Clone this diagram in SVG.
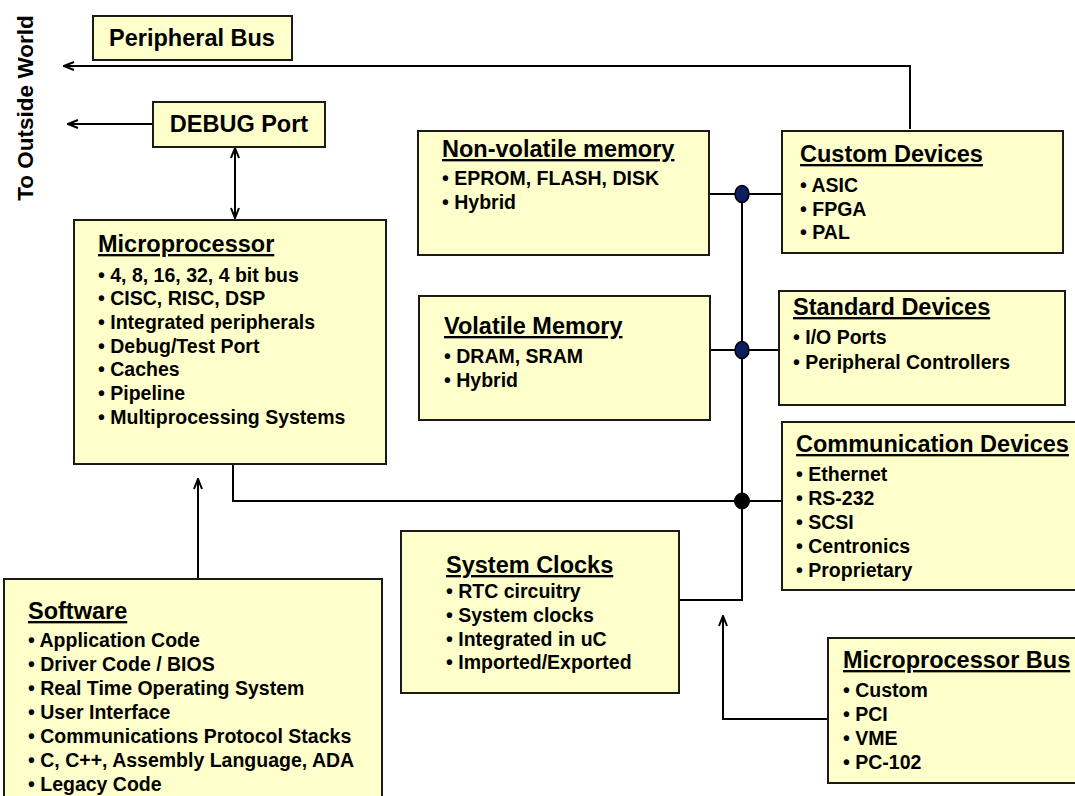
<svg xmlns="http://www.w3.org/2000/svg" width="1075" height="796" viewBox="0 0 1075 796">
<defs>
<style>
.box{fill:#FFFFCC;stroke:#1a1a1a;stroke-width:2}
.t{font-family:"Liberation Sans",Arial,sans-serif;font-weight:bold;fill:#000}
.title{font-size:23.5px;text-decoration:underline}
.plain{font-size:23.5px}
.item{font-size:19.5px}
.wire{fill:none;stroke:#000;stroke-width:2}
.dotb{fill:#0B1F5E;stroke:#000;stroke-width:1.5}
.dotk{fill:#000;stroke:#000;stroke-width:1}
</style>
<marker id="arr" viewBox="0 0 12 10" refX="11" refY="5" markerWidth="12" markerHeight="10" markerUnits="userSpaceOnUse" orient="auto-start-reverse">
<path d="M1,1 L11,5 L1,9" fill="none" stroke="#000" stroke-width="2"/>
</marker>
</defs>
<rect width="1075" height="796" fill="#fff"/>

<g id="connectors">
<path class="wire" d="M910,129 V66 H64" marker-end="url(#arr)"/>
<path class="wire" d="M153,124 H68" marker-end="url(#arr)"/>
<path class="wire" d="M235,148 V218" marker-start="url(#arr)" marker-end="url(#arr)"/>
<path class="wire" d="M233,464 V501 H782"/>
<path class="wire" d="M198,579 V479" marker-end="url(#arr)"/>
<path class="wire" d="M742,194 V600 H679"/>
<path class="wire" d="M709,194 H782"/>
<path class="wire" d="M710,350 H779"/>
<path class="wire" d="M828,719 H723 V616" marker-end="url(#arr)"/>
<ellipse class="dotb" cx="742" cy="194" rx="7" ry="8.5"/>
<ellipse class="dotb" cx="742" cy="350" rx="7" ry="8.5"/>
<ellipse class="dotk" cx="742" cy="501" rx="7.5" ry="8"/>
</g>

<g id="outside">
<text class="t plain" transform="translate(33,108) rotate(-90)" text-anchor="middle" style="font-size:22.5px">To Outside World</text>
</g>

<g id="peripheral-bus">
<rect class="box" x="93" y="16" width="199" height="44"/>
<text class="t plain" x="192" y="46" text-anchor="middle">Peripheral Bus</text>
</g>

<g id="debug-port">
<rect class="box" x="153" y="102" width="172" height="45"/>
<text class="t plain" x="239" y="132" text-anchor="middle">DEBUG Port</text>
</g>

<g id="microprocessor">
<rect class="box" x="74" y="220" width="312" height="244"/>
<text class="t title" x="98" y="252">Microprocessor</text>
<text class="t item" x="98" y="282">• 4, 8, 16, 32, 4 bit bus</text>
<text class="t item" x="98" y="305">• CISC, RISC, DSP</text>
<text class="t item" x="98" y="329">• Integrated peripherals</text>
<text class="t item" x="98" y="353">• Debug/Test Port</text>
<text class="t item" x="98" y="376">• Caches</text>
<text class="t item" x="98" y="400">• Pipeline</text>
<text class="t item" x="98" y="424">• Multiprocessing Systems</text>
</g>

<g id="software">
<rect class="box" x="4" y="579" width="378" height="230"/>
<text class="t title" x="28" y="619">Software</text>
<text class="t item" x="28" y="647">• Application Code</text>
<text class="t item" x="28" y="671">• Driver Code / BIOS</text>
<text class="t item" x="28" y="695">• Real Time Operating System</text>
<text class="t item" x="28" y="719">• User Interface</text>
<text class="t item" x="28" y="743">• Communications Protocol Stacks</text>
<text class="t item" x="28" y="767">• C, C++, Assembly Language, ADA</text>
<text class="t item" x="28" y="791">• Legacy Code</text>
</g>

<g id="nonvolatile-memory">
<rect class="box" x="418" y="131" width="291" height="124"/>
<text class="t title" x="442" y="157">Non-volatile memory</text>
<text class="t item" x="442" y="185">• EPROM, FLASH, DISK</text>
<text class="t item" x="442" y="209">• Hybrid</text>
</g>

<g id="custom-devices">
<rect class="box" x="782" y="131" width="281" height="122"/>
<text class="t title" x="800" y="162">Custom Devices</text>
<text class="t item" x="800" y="192">• ASIC</text>
<text class="t item" x="800" y="216">• FPGA</text>
<text class="t item" x="800" y="239">• PAL</text>
</g>

<g id="volatile-memory">
<rect class="box" x="419" y="296" width="291" height="124"/>
<text class="t title" x="444" y="334">Volatile Memory</text>
<text class="t item" x="444" y="363">• DRAM, SRAM</text>
<text class="t item" x="444" y="387">• Hybrid</text>
</g>

<g id="standard-devices">
<rect class="box" x="779" y="291" width="286" height="114"/>
<text class="t title" x="793" y="315">Standard Devices</text>
<text class="t item" x="793" y="344">• I/O Ports</text>
<text class="t item" x="793" y="369">• Peripheral Controllers</text>
</g>

<g id="communication-devices">
<rect class="box" x="782" y="422" width="310" height="168"/>
<text class="t title" x="796" y="452">Communication Devices</text>
<text class="t item" x="796" y="481">• Ethernet</text>
<text class="t item" x="796" y="505">• RS-232</text>
<text class="t item" x="796" y="529">• SCSI</text>
<text class="t item" x="796" y="553">• Centronics</text>
<text class="t item" x="796" y="577">• Proprietary</text>
</g>

<g id="system-clocks">
<rect class="box" x="401" y="531" width="278" height="162"/>
<text class="t title" x="446" y="573">System Clocks</text>
<text class="t item" x="446" y="598">• RTC circuitry</text>
<text class="t item" x="446" y="622">• System clocks</text>
<text class="t item" x="446" y="646">• Integrated in uC</text>
<text class="t item" x="446" y="669">• Imported/Exported</text>
</g>

<g id="microprocessor-bus">
<rect class="box" x="828" y="638" width="260" height="145"/>
<text class="t title" x="843" y="668">Microprocessor Bus</text>
<text class="t item" x="843" y="697">• Custom</text>
<text class="t item" x="843" y="721">• PCI</text>
<text class="t item" x="843" y="745">• VME</text>
<text class="t item" x="843" y="769">• PC-102</text>
</g>
</svg>
